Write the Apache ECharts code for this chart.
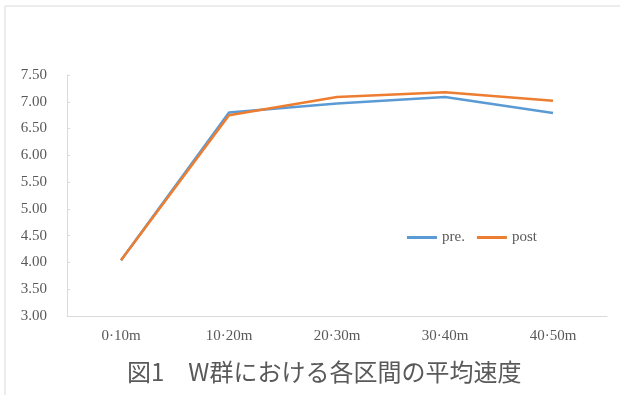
<!DOCTYPE html>
<html>
<head>
<meta charset="utf-8">
<script src="https://cdn.jsdelivr.net/npm/echarts@6/dist/echarts.min.js"></script>
<style>
  html, body { margin: 0; padding: 0; background: #fff; }
  #chart { width: 620px; height: 395px; }
</style>
</head>
<body>
<div id="chart"></div>
<script>
// 区間ごとの平均速度 (m/s)
var sections = ['0-10m', '10-20m', '20-30m', '30-40m', '40-50m'];
var preValues = [4.04, 6.80, 6.97, 7.09, 6.79];
var postValues = [4.04, 6.75, 7.09, 7.18, 7.02];
var captionText = '図1　W群における各区間の平均速度';

var serif = '"Liberation Serif", "DejaVu Serif", serif';

try {
    var chart = echarts.init(document.getElementById('chart'));
    chart.setOption({
        animation: false,
        backgroundColor: '#fff',
        graphic: [
            {
                type: 'rect',
                shape: { x: 5, y: 6, width: 640, height: 420 },
                style: { fill: 'none', stroke: '#d9d9d9', lineWidth: 1 },
                silent: true
            },
            {
                type: 'text',
                left: 127,
                top: 360,
                style: {
                    text: captionText,
                    font: '24px "Noto Sans CJK JP"',
                    fill: '#595959'
                }
            }
        ],
        grid: { left: 67, right: 13, top: 75, bottom: 79 },
        legend: {
            left: 402,
            top: 225,
            itemWidth: 30,
            itemHeight: 3,
            itemGap: 12,
            icon: 'rect',
            textStyle: { fontFamily: serif, fontSize: 15, color: '#595959' },
            data: ['pre.', 'post']
        },
        xAxis: {
            type: 'category',
            data: sections,
            boundaryGap: true,
            axisLine: { lineStyle: { color: '#d9d9d9', width: 1 } },
            axisTick: { show: false },
            axisLabel: {
                fontFamily: serif, fontSize: 15, color: '#595959', margin: 13,
                formatter: function (v) { return v.replace('-', '·'); }
            }
        },
        yAxis: {
            type: 'value',
            min: 3,
            max: 7.5,
            interval: 0.5,
            axisLine: { show: true, lineStyle: { color: '#d6dce5', width: 1 } },
            axisTick: { show: true, inside: true, length: 3, lineStyle: { color: '#d6dce5' } },
            splitLine: { show: false },
            axisLabel: {
                fontFamily: serif, fontSize: 15, color: '#595959', margin: 20,
                formatter: function (v) { return v.toFixed(2); }
            }
        },
        series: [
            {
                name: 'pre.',
                type: 'line',
                data: preValues,
                symbol: 'none',
                color: '#5b9bd5',
                lineStyle: { width: 2.5, color: '#5b9bd5' }
            },
            {
                name: 'post',
                type: 'line',
                data: postValues,
                symbol: 'none',
                color: '#ed7d31',
                lineStyle: { width: 2.5, color: '#ed7d31' }
            }
        ]
    });
} catch (e) {
    console.log(e);
}
</script>
</body>
</html>
